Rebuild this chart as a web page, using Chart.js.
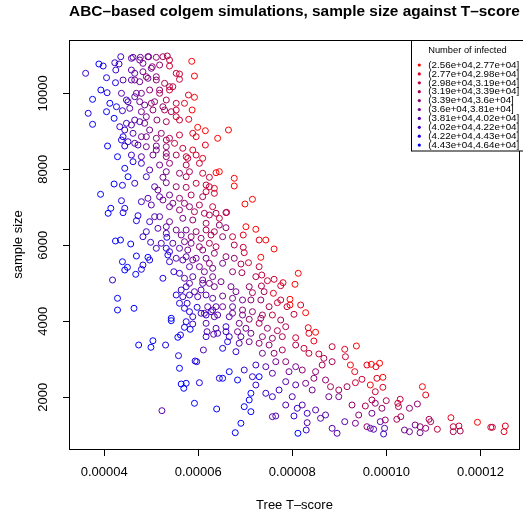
<!DOCTYPE html>
<html><head><meta charset="utf-8">
<script src="https://cdn.jsdelivr.net/npm/chart.js@4/dist/chart.umd.min.js"></script>
<style>html,body{margin:0;padding:0;background:#fff;overflow:hidden}canvas{display:block}</style>
</head><body>
<canvas id="c" width="523" height="516"></canvas>
<script>
const chartTitle = "ABC–based colgem simulations, sample size against T–score";
const xAxisTitle = "Tree T–score";
const yAxisTitle = "sample size";
const legendTitle = "Number of infected";
const binLabels = ["(2.56e+04,2.77e+04]","(2.77e+04,2.98e+04]","(2.98e+04,3.19e+04]","(3.19e+04,3.39e+04]","(3.39e+04,3.6e+04]","(3.6e+04,3.81e+04]","(3.81e+04,4.02e+04]","(4.02e+04,4.22e+04]","(4.22e+04,4.43e+04]","(4.43e+04,4.64e+04]"];
const binColors = ["#FF0000","#E3001C","#C60039","#AA0055","#8E0071","#71008E","#5500AA","#3900C6","#1C00E3","#0000FF"];
const xTickValues = [4e-5, 6e-5, 8e-5, 10e-5, 12e-5];
const yTickValues = [2000, 4000, 6000, 8000, 10000];

const tScore = [
4.353e-5,4.614e-5,4.770e-5,4.946e-5,5.109e-5,5.249e-5,5.342e-5,5.862e-5,3.888e-5,3.979e-5,
4.226e-5,4.317e-5,4.580e-5,4.825e-5,5.024e-5,5.390e-5,5.532e-5,5.602e-5,5.920e-5,3.606e-5,
4.051e-5,4.248e-5,4.402e-5,4.650e-5,4.897e-5,5.109e-5,5.285e-5,5.460e-5,4.241e-5,3.930e-5,
4.063e-5,4.368e-5,4.686e-5,4.967e-5,5.179e-5,5.390e-5,5.793e-5,5.920e-5,3.754e-5,4.121e-5,
4.262e-5,4.508e-5,4.756e-5,5.003e-5,5.321e-5,5.532e-5,5.708e-5,4.051e-5,4.212e-5,4.389e-5,
4.544e-5,4.792e-5,5.037e-5,5.285e-5,5.532e-5,5.871e-5,3.661e-5,3.754e-5,4.332e-5,4.474e-5,
4.650e-5,4.861e-5,5.122e-5,5.321e-5,5.602e-5,5.799e-5,5.989e-5,6.152e-5,4.402e-5,4.614e-5,
4.792e-5,4.967e-5,5.215e-5,5.390e-5,5.602e-5,5.884e-5,5.956e-5,6.413e-5,6.152e-5,4.072e-5,
4.438e-5,4.650e-5,4.897e-5,5.109e-5,5.321e-5,5.672e-5,5.884e-5,4.284e-5,4.580e-5,4.792e-5,
5.037e-5,5.321e-5,5.532e-5,5.778e-5,5.956e-5,6.095e-5,4.614e-5,4.792e-5,5.179e-5,5.390e-5,
5.744e-5,6.025e-5,4.438e-5,4.967e-5,5.321e-5,5.602e-5,5.814e-5,6.095e-5,6.379e-5,4.508e-5,
4.897e-5,5.249e-5,5.744e-5,6.237e-5,5.390e-5,5.602e-5,6.643e-5,6.449e-5,6.766e-5,6.766e-5,
6.237e-5,6.343e-5,6.167e-5,7.153e-5,6.993e-5,6.307e-5,6.590e-5,6.449e-5,7.014e-5,7.225e-5,
7.295e-5,6.730e-5,6.343e-5,6.603e-5,6.590e-5,6.957e-5,7.437e-5,7.613e-5,6.519e-5,6.766e-5,
6.957e-5,6.978e-5,7.331e-5,7.295e-5,7.069e-5,6.908e-5,6.766e-5,6.519e-5,6.730e-5,6.929e-5,
8.127e-5,7.613e-5,7.471e-5,7.225e-5,7.352e-5,7.803e-5,8.057e-5,7.754e-5,7.344e-5,7.084e-5,
6.696e-5,6.485e-5,6.449e-5,6.590e-5,6.237e-5,6.379e-5,6.095e-5,6.167e-5,6.343e-5,6.307e-5,
6.131e-5,6.343e-5,4.212e-5,4.389e-5,4.650e-5,3.924e-5,4.142e-5,4.085e-5,4.368e-5,4.438e-5,
4.402e-5,4.792e-5,4.931e-5,5.143e-5,5.321e-5,5.532e-5,5.744e-5,5.956e-5,6.167e-5,6.343e-5,
5.179e-5,5.390e-5,5.602e-5,5.850e-5,6.095e-5,5.003e-5,5.390e-5,5.602e-5,5.814e-5,6.025e-5,
6.131e-5,4.720e-5,4.686e-5,4.967e-5,5.179e-5,5.390e-5,5.672e-5,5.884e-5,6.167e-5,5.143e-5,
5.321e-5,5.532e-5,5.744e-5,5.956e-5,6.167e-5,4.897e-5,4.825e-5,4.241e-5,4.347e-5,4.565e-5,
4.988e-5,5.215e-5,5.333e-5,5.460e-5,5.708e-5,5.850e-5,6.025e-5,6.237e-5,6.379e-5,5.321e-5,
5.390e-5,5.602e-5,5.778e-5,5.354e-5,5.532e-5,5.744e-5,5.956e-5,4.686e-5,4.931e-5,4.967e-5,
4.389e-5,4.495e-5,4.438e-5,4.825e-5,4.792e-5,5.390e-5,5.814e-5,6.025e-5,5.481e-5,4.671e-5,
4.178e-5,5.249e-5,5.708e-5,5.884e-5,6.095e-5,6.307e-5,5.638e-5,5.920e-5,6.095e-5,4.284e-5,
5.672e-5,5.814e-5,5.989e-5,6.167e-5,6.307e-5,5.602e-5,5.765e-5,5.977e-5,6.201e-5,6.379e-5,
4.284e-5,4.635e-5,5.426e-5,5.884e-5,6.167e-5,6.343e-5,5.426e-5,5.744e-5,5.884e-5,6.167e-5,
6.379e-5,5.708e-5,5.829e-5,6.188e-5,6.328e-5,4.734e-5,5.037e-5,4.995e-5,5.306e-5,5.566e-5,
5.623e-5,5.581e-5,6.110e-5,5.602e-5,5.934e-5,5.968e-5,6.449e-5,5.638e-5,5.744e-5,5.693e-5,
6.025e-5,5.920e-5,5.228e-5,6.392e-5,6.519e-5,6.802e-5,7.153e-5,7.401e-5,7.598e-5,7.951e-5,
7.951e-5,8.178e-5,8.284e-5,8.036e-5,7.683e-5,7.507e-5,7.365e-5,7.153e-5,6.942e-5,6.730e-5,
6.519e-5,7.084e-5,7.295e-5,7.577e-5,7.754e-5,7.860e-5,6.872e-5,6.590e-5,6.836e-5,7.120e-5,
7.365e-5,7.683e-5,8.339e-5,8.495e-5,8.353e-5,8.072e-5,8.459e-5,8.072e-5,8.248e-5,8.353e-5,
8.565e-5,7.788e-5,7.507e-5,7.295e-5,7.084e-5,6.872e-5,6.624e-5,6.519e-5,6.802e-5,7.365e-5,
7.613e-5,8.847e-5,9.115e-5,9.363e-5,9.130e-5,9.236e-5,9.327e-5,9.587e-5,9.481e-5,9.342e-5,
9.164e-5,8.988e-5,8.813e-5,8.847e-5,8.671e-5,8.635e-5,8.495e-5,8.707e-5,8.459e-5,8.212e-5,
8.072e-5,7.930e-5,7.860e-5,7.649e-5,7.437e-5,7.225e-5,6.978e-5,6.660e-5,6.519e-5,6.836e-5,
7.153e-5,7.295e-5,7.577e-5,7.860e-5,8.072e-5,8.284e-5,8.423e-5,8.776e-5,8.988e-5,9.270e-5,
9.412e-5,9.553e-5,9.115e-5,9.342e-5,9.587e-5,8.952e-5,8.847e-5,8.601e-5,8.707e-5,8.317e-5,
8.495e-5,8.036e-5,8.106e-5,7.719e-5,7.577e-5,7.437e-5,7.225e-5,7.120e-5,7.084e-5,6.978e-5,
7.120e-5,7.577e-5,7.649e-5,8.317e-5,8.296e-5,8.120e-5,6.908e-5,6.787e-5,7.999e-5,8.212e-5,
7.860e-5,9.680e-5,9.856e-5,9.778e-5,9.799e-5,9.926e-5,9.659e-5,9.926e-5,9.765e-5,9.693e-5,
9.998e-5,9.765e-5,10.766e-5,10.836e-5,10.294e-5,10.243e-5,10.258e-5,9.905e-5,9.693e-5,10.660e-5,
10.491e-5,10.307e-5,10.222e-5,9.977e-5,9.871e-5,9.659e-5,9.729e-5,9.962e-5,9.941e-5,10.385e-5,
10.491e-5,10.612e-5,10.717e-5,10.717e-5,10.836e-5,10.908e-5,10.942e-5,11.084e-5,11.373e-5,11.422e-5,
11.543e-5,11.422e-5,11.570e-5,11.937e-5,12.220e-5,12.254e-5,12.529e-5,12.502e-5,
4.580e-5,4.756e-5,4.931e-5,5.179e-5,5.003e-5,4.825e-5,4.650e-5,4.580e-5,4.756e-5,4.931e-5,
5.109e-5,5.390e-5,5.179e-5,4.792e-5,4.650e-5,4.474e-5,4.861e-5,5.073e-5,5.249e-5,5.426e-5,
5.532e-5,4.897e-5,4.756e-5,4.580e-5,4.438e-5,4.897e-5,5.109e-5,5.321e-5,5.497e-5,5.744e-5,
5.321e-5,5.109e-5,4.720e-5,4.508e-5,4.368e-5,5.073e-5,5.249e-5,5.460e-5,5.708e-5,5.920e-5,
5.073e-5,5.321e-5,5.638e-5,5.850e-5,6.061e-5,6.273e-5,5.109e-5,5.672e-5,5.884e-5,6.237e-5,
5.602e-5,5.814e-5,6.237e-5,5.744e-5,6.061e-5,5.532e-5,5.708e-5,5.814e-5,6.061e-5,6.273e-5,
6.730e-5,6.942e-5,7.120e-5,7.331e-5,7.754e-5,7.888e-5,6.730e-5,6.307e-5,6.131e-5,6.413e-5,
6.660e-5,6.942e-5,7.331e-5,6.590e-5,7.014e-5,7.471e-5,7.788e-5,7.577e-5,6.908e-5,6.660e-5,
6.413e-5,6.167e-5
];
const sampleSize = [
10963,10947,10947,10963,10947,10963,10982,10842,10771,10718,
10805,10771,10613,10789,10700,10718,10526,10508,10455,10526,
10411,10613,10350,10350,10437,10350,10263,10174,10279,10087,
10016,10000,10000,10087,10000,10087,9955,9895,9842,9737,
9647,9779,9779,9737,9824,9737,9737,9516,9342,9542,
9605,9516,9561,9561,9561,9561,9474,9184,9121,9211,
9297,9211,9297,9253,9297,9316,9105,9016,8858,8947,
8858,9034,8947,8816,8903,8947,8858,8816,8639,8613,
8613,8684,8595,8613,8595,8553,8508,8332,8376,8332,
8376,8332,8376,8289,8376,8289,8200,8158,8113,8158,
8113,8158,8026,7982,7937,7895,7937,7895,7911,7805,
7805,7789,7805,7789,10876,10368,9034,7937,7763,7561,
7542,7368,7411,7211,7087,7016,6858,6711,6489,6421,
6139,6226,6358,6868,6463,6271,6139,5903,6226,6008,
5947,5805,5684,5437,5542,5508,5658,5526,5305,5279,
5263,5105,5068,5174,5218,5016,4974,4937,4929,4911,
4911,5042,6532,5700,6797,6842,5876,5658,5789,5395,
5305,4911,7613,7579,7632,7342,6974,6842,7174,6974,
6858,7147,7237,7455,7647,7542,7526,7632,7587,7500,
7279,7324,7237,7324,7279,7061,7016,6929,7016,7061,
6842,6779,6647,6621,6753,6621,6711,6666,6579,6447,
6489,6403,6403,6358,6403,6358,6226,6113,6139,6034,
6079,6053,6211,6053,6095,6053,5963,6053,5963,5921,
5832,5921,5876,5745,5658,5700,5658,5718,5684,5613,
5568,5421,5350,5482,5368,5568,5437,5437,5305,5237,
5087,5132,5132,5174,5087,5174,4824,4779,4999,4605,
4647,4692,4647,4692,4605,4474,4474,4368,4384,4384,
4297,4342,4079,4121,4166,4121,4016,3990,3929,3947,
3816,3842,3789,3726,3658,3376,3489,3316,3376,3579,
3640,3095,3245,2763,2955,2937,2500,2350,2368,2237,
2384,1842,1647,1692,4666,4779,4753,4779,4737,4579,
4429,4429,4226,4184,4490,4384,4166,4253,4297,4211,
4384,4053,3947,4166,4034,3858,3947,3726,3726,3684,
3595,3753,3832,3711,3684,3568,3481,3376,3289,3158,
3140,3245,3376,3421,3463,3421,3463,3289,3200,3158,
3158,3332,3263,3350,3068,2850,2674,2850,2474,2384,
2279,2192,2279,2937,3026,2850,2674,2455,2500,2718,
2805,2674,2937,2937,2805,2850,2718,2674,2500,2455,
2542,2542,2632,2411,2326,2368,2192,2016,2016,1797,
1534,1771,1358,1316,1226,1053,1184,1447,1534,1579,
1666,1508,1711,2192,2016,2105,2324,2105,1929,1753,
1621,1490,1508,1332,1139,1053,1316,1068,2016,1797,
1797,2868,2895,2805,2500,2526,2324,2263,2147,1929,
1911,1842,2279,2061,1947,1842,1753,1711,1579,1824,
1711,1489,1421,1403,1358,1184,1158,1184,1034,1139,
1095,1271,1226,1068,1184,1421,1358,1158,1463,1226,
1245,1095,1113,1342,1211,1211,1245,1095,
10921,10876,10963,10745,10658,10568,10526,10350,10305,10395,
10437,10174,10087,10000,9911,9824,9692,9779,9647,9516,
9384,9384,9253,9166,9034,8858,8816,8771,8684,8332,
8421,8508,8639,8726,8771,7542,7192,7105,7105,6884,
6753,6316,6271,6226,6184,6271,5921,5613,5613,5526,
5263,4999,4999,4911,4824,4692,4342,4253,4211,4253,
4605,4561,4561,4561,4561,4384,4384,4297,4211,4166,
4121,4166,4079,3858,3816,3816,3595,3553,3595,3595,
3684,3595
];
const infectedBin = [
7,6,5,5,4,3,3,0,9,8,
7,7,6,5,4,2,2,2,0,7,
8,7,6,5,4,4,3,2,8,9,
8,6,5,4,3,2,1,0,9,9,
8,6,5,4,3,2,1,9,9,7,
6,5,4,3,2,0,8,9,7,7,
6,5,4,3,2,1,0,0,8,6,
5,5,4,3,2,1,1,0,1,9,
8,6,5,5,4,2,1,9,7,6,
5,4,3,2,2,1,8,7,5,4,
3,2,9,6,5,4,3,2,0,9,
7,5,3,2,2,2,0,0,0,0,
2,2,2,0,0,2,2,2,0,0,
1,2,3,4,4,1,0,0,4,3,
2,2,0,2,2,3,4,5,4,3,
0,2,2,3,2,1,0,2,3,4,
5,5,4,4,3,3,4,5,4,5,
5,5,9,8,7,9,9,9,8,8,
8,7,6,5,5,4,3,2,2,1,
6,5,4,3,3,6,5,4,4,3,
3,8,8,7,6,5,5,4,3,6,
6,5,5,4,3,7,7,9,9,9,
7,6,8,6,5,5,4,3,3,8,
7,6,5,8,6,6,5,9,9,8,
9,9,9,8,8,7,6,5,7,9,
7,8,6,6,5,5,7,6,6,9,
7,7,6,6,6,8,7,8,6,6,
9,9,9,7,7,6,9,8,7,6,
6,9,9,6,6,9,9,9,8,9,
8,8,6,9,8,8,8,9,9,9,
8,9,6,9,5,5,3,3,1,0,
0,1,0,2,2,3,3,4,4,5,
5,4,3,2,3,3,5,7,5,5,
4,3,1,0,1,2,1,3,2,2,
2,3,4,4,5,6,8,8,7,5,
4,2,1,0,2,0,1,1,2,2,
3,3,3,3,3,3,4,4,4,4,
5,5,4,5,6,7,7,9,9,9,
7,9,6,6,6,5,5,5,5,4,
4,3,6,5,4,6,6,6,6,7,
6,7,7,7,7,7,7,9,9,9,
9,6,6,6,7,9,9,9,6,6,
6,0,0,1,1,0,0,1,2,3,
3,4,0,1,2,2,3,4,5,4,
4,3,3,4,6,6,6,6,7,5,
5,5,4,5,4,3,3,2,1,2,
2,3,3,0,2,2,1,1,
6,5,5,4,5,5,6,6,5,5,
4,3,4,5,6,7,5,4,4,3,
2,5,6,6,7,5,4,3,2,2,
4,5,6,7,8,6,5,5,4,3,
6,6,5,4,4,3,7,6,5,4,
7,6,5,7,6,8,8,8,7,7,
5,5,4,4,2,2,6,6,6,6,
6,5,4,7,5,4,3,4,6,7,
7,7
];

const FONT = "'Liberation Sans', Arial, Helvetica, sans-serif";

const datasets = binLabels.map((lab, k) => ({
  label: lab, data: [],
  borderColor: binColors[k], backgroundColor: 'rgba(0,0,0,0)',
  pointRadius: 3, pointHoverRadius: 3, pointBorderWidth: 1, showLine: false
}));
tScore.forEach((x, i) => datasets[infectedBin[i]].data.push({ x: x, y: sampleSize[i] }));

const decor = {
  id: 'decor',
  afterDraw(chart) {
    const { ctx, chartArea: a } = chart;
    ctx.save();
    ctx.strokeStyle = '#000'; ctx.lineWidth = 1;
    ctx.strokeRect(Math.round(a.left) - 0.5, Math.round(a.top) + 0.5, Math.round(a.right - a.left) + 1, Math.round(a.bottom - a.top));
    ctx.fillStyle = '#000';
    ctx.font = 'bold 15.4px ' + FONT;
    ctx.textAlign = 'center'; ctx.textBaseline = 'middle';
    ctx.fillText(chartTitle, (a.left + a.right) / 2, 12);
    const lx = 411.5, ly = a.top + 0.5, lw = 120, lh = 110.5;
    ctx.fillStyle = '#fff';
    ctx.fillRect(lx, ly, lw, lh);
    ctx.strokeRect(lx, ly, lw, lh);
    ctx.fillStyle = '#000';
    ctx.font = '9.3px ' + FONT;
    ctx.textAlign = 'center';
    ctx.fillText(legendTitle, 467.5, 50);
    ctx.font = '9.8px ' + FONT;
    ctx.textAlign = 'left';
    chart.data.datasets.forEach((ds, i) => {
      const y = 65 + i * 8.9;
      ctx.fillStyle = ds.borderColor;
      ctx.beginPath(); ctx.arc(419.3, y, 1.6, 0, Math.PI * 2); ctx.fill();
      ctx.fillStyle = '#000';
      ctx.fillText(ds.label, 428.3, y);
    });
    ctx.restore();
  }
};

new Chart(document.getElementById('c'), {
  type: 'scatter',
  data: { datasets },
  plugins: [decor],
  options: {
    responsive: false, animation: false, devicePixelRatio: 1,
    layout: { padding: { top: 40, right: 2, left: 0, bottom: 0 } },
    plugins: { legend: { display: false }, tooltip: { enabled: false }, title: { display: false } },
    scales: {
      x: {
        type: 'linear', min: 3.274e-5, max: 12.82e-5,
        afterBuildTicks: s => { s.ticks = xTickValues.map(v => ({ value: v })); },
        afterFit: s => { s.height = 67; },
        grid: { drawOnChartArea: false, drawTicks: true, tickLength: 7, tickColor: '#000' },
        border: { display: false },
        ticks: { autoSkip: false, maxRotation: 0, padding: 9, color: '#000', font: { family: FONT, size: 13 }, callback: v => Number(v).toFixed(5) },
        title: { display: true, text: xAxisTitle, color: '#000', font: { family: FONT, size: 13 }, padding: { top: 0, bottom: 3.2 } }
      },
      y: {
        type: 'linear', min: 639, max: 11403,
        afterBuildTicks: s => { s.ticks = yTickValues.map(v => ({ value: v })); },
        afterFit: s => { s.width = 70; },
        grid: { drawOnChartArea: false, drawTicks: true, tickLength: 7, tickColor: '#000' },
        border: { display: false },
        ticks: { autoSkip: false, minRotation: 90, maxRotation: 90, crossAlign: 'center', padding: 1.7, color: '#000', font: { family: FONT, size: 13 }, callback: v => String(v) },
        title: { display: true, text: yAxisTitle, color: '#000', font: { family: FONT, size: 13 }, padding: { top: 10.5, bottom: 0 } }
      }
    }
  }
});
</script>
</body></html>
